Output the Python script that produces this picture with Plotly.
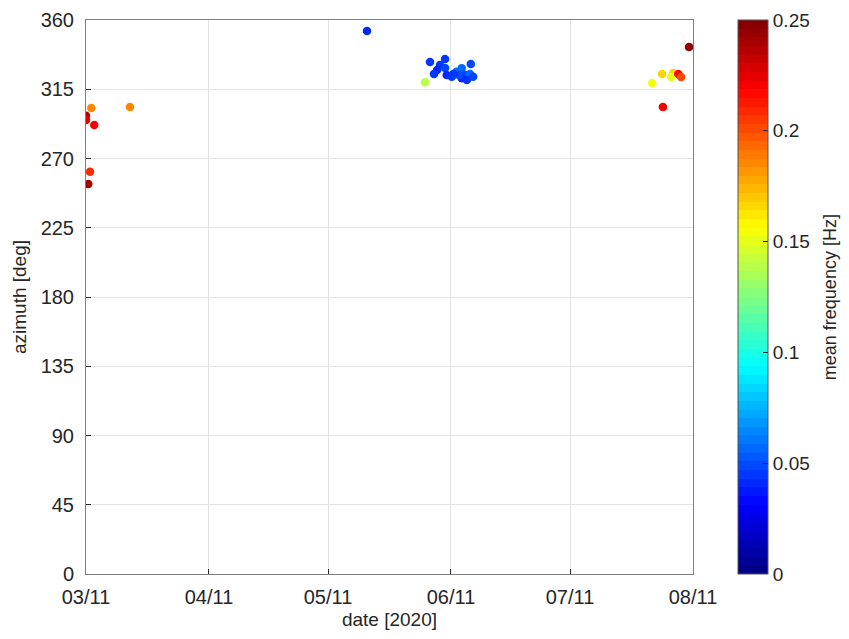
import plotly.graph_objects as go
import numpy as np

# ---- data ----
dates = [
    "2020-03-11 00:00", "2020-03-11 00:00", "2020-03-12 08:00", "2020-03-22 02:00",
    "2020-03-13 02:00", "2020-03-12 00:00", "2020-03-11 14:00",
    "2020-05-20 20:00",
    "2020-06-04 11:00", "2020-06-05 17:00", "2020-06-09 12:00", "2020-06-16 00:00",
    "2020-06-08 05:00", "2020-06-07 12:00", "2020-06-06 17:00", "2020-06-09 12:00",
    "2020-06-09 22:00", "2020-06-11 05:00", "2020-06-12 10:00", "2020-06-13 17:00",
    "2020-06-14 12:00", "2020-06-15 19:00", "2020-06-16 14:00", "2020-06-15 00:00",
    "2020-06-13 17:00", "2020-06-13 00:00", "2020-06-11 14:00",
    "2020-08-10 00:00", "2020-07-31 17:00", "2020-08-03 05:00", "2020-08-06 00:00",
    "2020-08-05 12:00", "2020-08-07 07:00", "2020-08-08 00:00", "2020-08-03 10:00",
]
azimuth = [
    297.8, 295.0, 302.8, 303.5, 291.7, 261.4, 253.4,
    352.8,
    319.5, 332.7, 334.6, 331.4, 330.7, 327.5, 324.9, 328.8,
    324.2, 323.1, 326.4, 328.6, 324.2, 324.9, 323.1, 321.0,
    322.1, 324.2, 324.9,
    342.4, 319.0, 324.9, 325.5, 323.0, 324.9, 323.0, 303.4,
]
mean_freq = [
    0.235, 0.225, 0.185, 0.185, 0.22, 0.21, 0.24,
    0.04,
    0.14, 0.045, 0.045, 0.05, 0.045, 0.042, 0.045, 0.048,
    0.042, 0.045, 0.055, 0.055, 0.05, 0.055, 0.05, 0.045,
    0.04, 0.05, 0.045,
    0.245, 0.155, 0.165, 0.165, 0.15, 0.215, 0.2, 0.22,
]
x_tick_vals = ["2020-03-11", "2020-04-11", "2020-05-11", "2020-06-11", "2020-07-11", "2020-08-11"]
x_tick_text = ["03/11", "04/11", "05/11", "06/11", "07/11", "08/11"]
y_tick_vals = [0, 45, 90, 135, 180, 225, 270, 315, 360]
c_tick_vals = [0, 0.05, 0.1, 0.15, 0.2, 0.25]
c_tick_text = ["0", "0.05", "0.1", "0.15", "0.2", "0.25"]

# ---- MATLAB-like jet(64) colorscale ----
def jet(t):
    r = np.clip(1.5 - abs(4 * t - 3), 0, 1)
    g = np.clip(1.5 - abs(4 * t - 2), 0, 1)
    b = np.clip(1.5 - abs(4 * t - 1), 0, 1)
    return f"rgb({int(round(r*255))},{int(round(g*255))},{int(round(b*255))})"

n = 64
colorscale = []
for i in range(n):
    c = jet((i + 0.5) / n)
    colorscale.append([i / n, c])
    colorscale.append([(i + 1) / n, c])

FONT = "Liberation Sans, Arial, sans-serif"
AX = "#262626"

fig = go.Figure(go.Scatter(
    x=dates, y=azimuth, mode="markers",
    marker=dict(
        size=8.5, color=mean_freq, cmin=0, cmax=0.25, colorscale=colorscale,
        line=dict(width=0),
        colorbar=dict(
            x=1.074, xanchor="left", xpad=0, ypad=0, y=0.5, yanchor="middle",
            len=1, lenmode="fraction", thickness=30, thicknessmode="pixels",
            outlinecolor="#555555", outlinewidth=1,
            tickvals=c_tick_vals, ticktext=c_tick_text,
            ticks="inside", ticklen=5, tickcolor=AX,
            tickfont=dict(size=19, color=AX, family=FONT),
        ),
    ),
    hoverinfo="skip",
))

# page body has an 8px margin: size the figure so the plot area lands where the reference has it
fig.update_layout(
    width=833, height=623,
    margin=dict(l=78, r=148, t=12, b=57, autoexpand=False),
    paper_bgcolor="white", plot_bgcolor="white",
    showlegend=False,
    font=dict(family=FONT, color=AX),
    annotations=[dict(
        text="mean frequency [Hz]", textangle=-90,
        xref="paper", yref="paper", x=1.226, y=0.5,
        xanchor="center", yanchor="middle", showarrow=False,
        font=dict(size=18, color=AX, family=FONT),
    )],
)
fig.update_xaxes(
    type="date", range=["2020-03-11", "2020-08-11"],
    tickvals=x_tick_vals, ticktext=x_tick_text,
    tickfont=dict(size=20, color=AX), ticks="inside", ticklen=5, tickcolor=AX,
    ticklabelstandoff=5,
    showgrid=True, gridcolor="#e3e3e3", gridwidth=1,
    showline=True, linecolor="#7f7f7f", linewidth=1, mirror=True,
    zeroline=False,
    title=dict(text="date [2020]", font=dict(size=19, color=AX), standoff=5),
)
fig.update_yaxes(
    range=[0, 360], tickvals=y_tick_vals,
    tickfont=dict(size=20, color=AX), ticks="inside", ticklen=5, tickcolor=AX,
    ticklabelstandoff=7,
    showgrid=True, gridcolor="#e3e3e3", gridwidth=1,
    showline=True, linecolor="#7f7f7f", linewidth=1, mirror=True,
    zeroline=False,
    title=dict(text="azimuth [deg]", font=dict(size=19, color=AX), standoff=8),
)

fig.write_html("out.html")
